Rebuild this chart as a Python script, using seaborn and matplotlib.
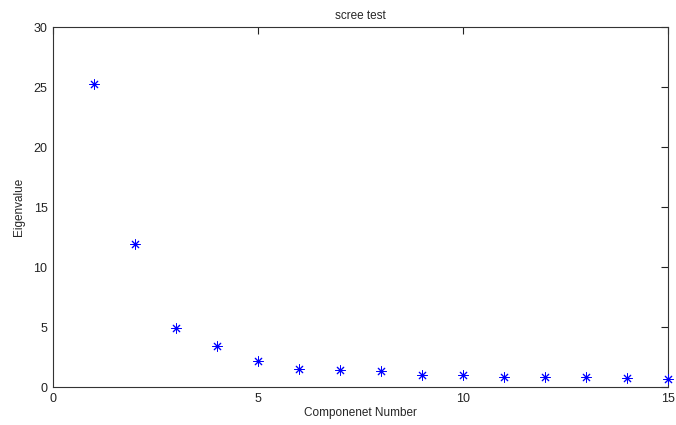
import matplotlib
matplotlib.use("Agg")
import matplotlib.pyplot as plt
import seaborn as sns
import pandas as pd

components = list(range(1, 16))
eigenvalues = [25.25, 11.9, 4.92, 3.44, 2.2, 1.5, 1.42, 1.36, 0.97, 0.97,
               0.86, 0.86, 0.86, 0.78, 0.69]
x_ticks = [0, 5, 10, 15]
y_ticks = [0, 5, 10, 15, 20, 25, 30]

sns.set_theme(style="white")
plt.rcParams["font.family"] = ["Liberation Sans", "DejaVu Sans"]

df = pd.DataFrame({"component": components, "eigenvalue": eigenvalues})

fig = plt.figure(figsize=(6.76, 4.25), dpi=100)
ax = fig.add_axes([53 / 676, 38 / 425, 615 / 676, 360 / 425])

# eight-armed asterisk, like the classic '*' point marker
sns.scatterplot(data=df, x="component", y="eigenvalue", ax=ax,
                marker=(8, 2, 0), s=45, color="blue", edgecolor="blue",
                linewidth=0.7, legend=False, clip_on=False, zorder=3)

ax.set_xlim(0, 15)
ax.set_ylim(0, 30)
ax.set_xticks(x_ticks)
ax.set_yticks(y_ticks)
ax.tick_params(direction="in", length=5, width=0.8, colors="#222222",
               labelsize=9, top=True, right=True, labelcolor="#222222",
               pad=4)
for side in ax.spines.values():
    side.set_color("#333333")
    side.set_linewidth(0.8)

ax.set_xlabel("Componenet Number", fontsize=8.5, labelpad=2)
ax.set_ylabel("Eigenvalue", fontsize=8.5, labelpad=6)
ax.set_title("scree test", fontsize=8.5, pad=6)

fig.savefig("out.png", dpi=100)
